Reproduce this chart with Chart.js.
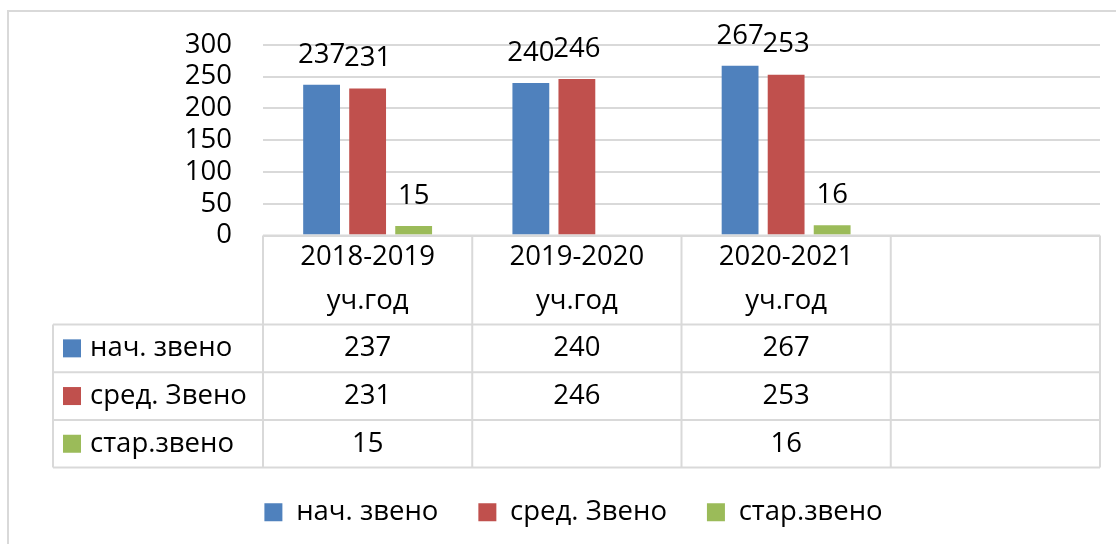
<!DOCTYPE html>
<html lang="ru">
<head>
    <meta charset="UTF-8">
    <title>Звенья по учебным годам</title>
    <style>
        html, body {
            margin: 0;
            padding: 0;
            background: #ffffff;
        }
        #wrap {
            width: 1116px;
            height: 544px;
            position: relative;
        }
    </style>
</head>
<body>
    <div id="wrap"><canvas id="chart" width="1116" height="544"></canvas></div>
    <script src="https://cdn.jsdelivr.net/npm/chart.js"></script>
    <script>
        // данные
        const years = ['2018-2019 уч.год', '2019-2020 уч.год', '2020-2021 уч.год', ''];
        const yearLines = [['2018-2019', 'уч.год'], ['2019-2020', 'уч.год'], ['2020-2021', 'уч.год'], []];
        const nach = [237, 240, 267, null];
        const sred = [231, 246, 253, null];
        const star = [15, null, 16, null];
        const seriesNames = ['нач. звено', 'сред. Звено', 'стар.звено'];
        const yTicks = [0, 50, 100, 150, 200, 250, 300];

        const colors = ['#4F81BD', '#C0504D', '#9BBB59'];
        const gridColor = '#d9d9d9';
        const FONT = "'Open Sans', 'Noto Sans', sans-serif";
        const fontSize = 27.5;

        // рамка диаграммы
        const frame = {
            id: 'frame',
            beforeDraw(chart) {
                const c = chart.ctx;
                c.save();
                c.fillStyle = '#fff';
                c.fillRect(0, 0, chart.width, chart.height);
                c.strokeStyle = gridColor;
                c.lineWidth = 2;
                c.beginPath();
                c.moveTo(8, chart.height);
                c.lineTo(8, 11);
                c.lineTo(chart.width, 11);
                c.stroke();
                c.restore();
            }
        };

        // подписи значений над столбцами
        const barLabels = {
            id: 'barLabels',
            afterDatasetsDraw(chart) {
                const c = chart.ctx;
                c.save();
                c.font = fontSize + 'px ' + FONT;
                c.fillStyle = '#000';
                c.textAlign = 'center';
                c.textBaseline = 'middle';
                chart.data.datasets.forEach((ds, i) => {
                    chart.getDatasetMeta(i).data.forEach((bar, j) => {
                        if (ds.data[j] == null) return;
                        c.fillText(String(ds.data[j]), bar.x, bar.y - 30);
                    });
                });
                c.restore();
            }
        };

        // таблица данных под осью
        const dataTable = {
            id: 'dataTable',
            afterDraw(chart) {
                const c = chart.ctx;
                const area = chart.chartArea;
                const x = chart.scales.x;
                const n = chart.data.labels.length;
                const w = area.width / n;
                const top = area.bottom;
                const headH = 89;
                const rowH = 47.7;
                const leftCol = 53;
                const bottom = top + headH + rowH * 3;

                c.save();
                c.strokeStyle = gridColor;
                c.lineWidth = 2;
                c.beginPath();
                // горизонтальные линии
                c.moveTo(area.left, top);
                c.lineTo(area.right, top);
                for (let r = 0; r <= 3; r++) {
                    const yy = top + headH + rowH * r;
                    c.moveTo(leftCol, yy);
                    c.lineTo(area.right, yy);
                }
                // вертикальные линии
                for (let i = 0; i <= n; i++) {
                    const xx = area.left + w * i;
                    c.moveTo(xx, top);
                    c.lineTo(xx, bottom);
                }
                c.moveTo(leftCol, top + headH);
                c.lineTo(leftCol, bottom);
                c.stroke();

                c.font = fontSize + 'px ' + FONT;
                c.fillStyle = '#000';
                c.textAlign = 'center';
                c.textBaseline = 'middle';
                yearLines.forEach((lines, i) => {
                    const cx = x.getPixelForValue(i);
                    lines.forEach((t, k) => c.fillText(t, cx, top + 22 + k * 44));
                });

                chart.data.datasets.forEach((ds, r) => {
                    const cy = top + headH + rowH * r + rowH / 2;
                    c.fillStyle = ds.backgroundColor;
                    c.fillRect(leftCol + 10, cy - 9, 18, 18);
                    c.fillStyle = '#000';
                    c.textAlign = 'left';
                    c.fillText(ds.label, leftCol + 37, cy);
                    c.textAlign = 'center';
                    ds.data.forEach((v, i) => {
                        if (v == null) return;
                        c.fillText(String(v), x.getPixelForValue(i), cy);
                    });
                });
                c.restore();
            }
        };

        const ctx = document.getElementById('chart').getContext('2d');
        new Chart(ctx, {
            type: 'bar',
            data: {
                labels: years,
                datasets: seriesNames.map((name, i) => ({
                    label: name,
                    data: [nach, sred, star][i],
                    backgroundColor: colors[i],
                    categoryPercentage: 0.66,
                    barPercentage: 0.8
                }))
            },
            options: {
                responsive: false,
                animation: false,
                events: [],
                layout: {
                    padding: { left: 31, right: 0, top: 33, bottom: 8 }
                },
                scales: {
                    x: {
                        grid: { display: false },
                        border: { display: false },
                        ticks: { display: false },
                        afterFit(scale) { scale.height = 223; }
                    },
                    y: {
                        min: 0,
                        max: 300,
                        afterBuildTicks(scale) {
                            scale.ticks = yTicks.map(v => ({ value: v }));
                        },
                        grid: { color: gridColor, lineWidth: 2, drawTicks: false },
                        border: { display: false },
                        ticks: {
                            autoSkip: false,
                            padding: 31,
                            color: '#000',
                            font: { family: FONT, size: fontSize, lineHeight: 1 }
                        },
                        afterFit(scale) { scale.width = 232; }
                    },
                    // пустая правая ось, только для отступа
                    y2: {
                        position: 'right',
                        grid: { display: false },
                        border: { display: false },
                        ticks: { display: false },
                        afterFit(scale) { scale.width = 16; }
                    }
                },
                plugins: {
                    legend: {
                        position: 'bottom',
                        labels: {
                            boxWidth: 18,
                            boxHeight: 18,
                            padding: 40,
                            color: '#000',
                            font: { family: FONT, size: fontSize }
                        }
                    },
                    tooltip: { enabled: false }
                }
            },
            plugins: [frame, barLabels, dataTable]
        });
    </script>
</body>
</html>
